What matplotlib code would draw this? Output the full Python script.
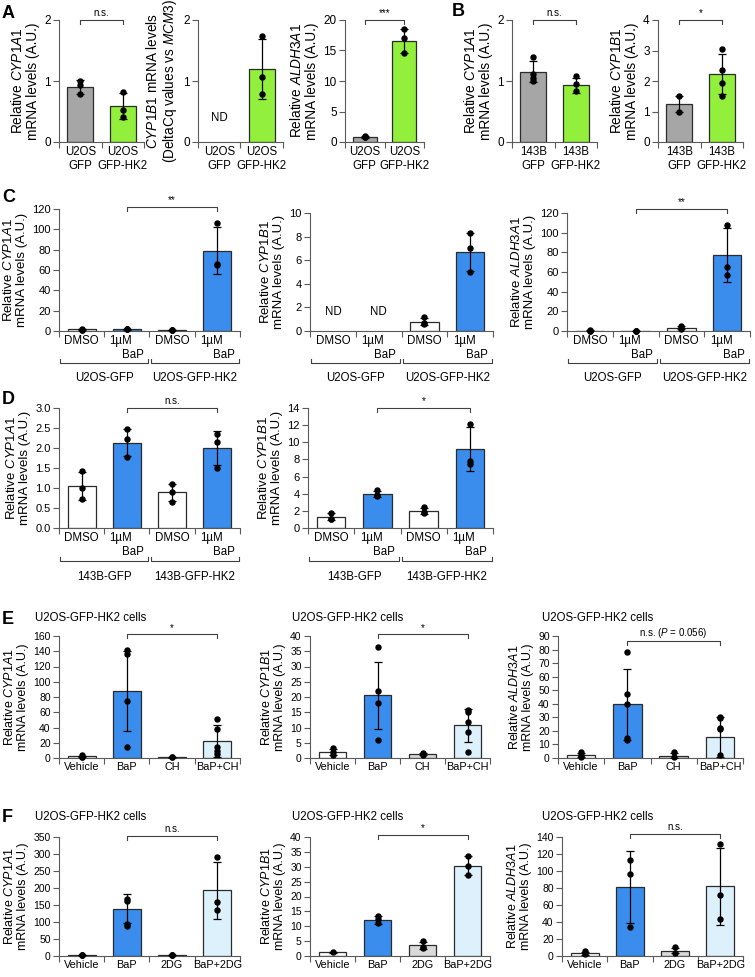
import numpy as np
import matplotlib
matplotlib.use("Agg")
import matplotlib.pyplot as plt
import matplotlib.transforms as mtransforms

plt.rcParams['font.family'] = ['Liberation Sans', 'DejaVu Sans']
plt.rcParams['mathtext.fontset'] = 'custom'
plt.rcParams['mathtext.rm'] = 'Liberation Sans'
plt.rcParams['mathtext.it'] = 'Liberation Sans:italic'
plt.rcParams['mathtext.bf'] = 'Liberation Sans:bold'

nan = np.nan

# ---------------- data ----------------
A_cats = ["U2OS\nGFP", "U2OS\nGFP-HK2"]
B_cats = ["143B\nGFP", "143B\nGFP-HK2"]

A1_mean = [0.90, 0.59]
A1_err = [0.11, 0.21]
A1_pts = [[1.00, 0.93, 0.78], [0.82, 0.52, 0.41]]

A2_mean = [nan, 1.20]
A2_err = [nan, 0.49]
A2_pts = [[], [1.74, 1.07, 0.79]]

A3_mean = [0.85, 16.6]
A3_err = [0.12, 2.0]
A3_pts = [[0.95, 0.85, 0.78], [18.6, 17.0, 14.6]]

B1_mean = [1.15, 0.93]
B1_err = [0.17, 0.12]
B1_pts = [[1.39, 1.12, 1.05, 1.00], [1.08, 0.95, 0.84]]

B2_mean = [1.24, 2.22]
B2_err = [0.27, 0.66]
B2_pts = [[1.52, 0.99], [3.05, 2.36, 1.93, 1.51]]

C_cats = ["DMSO", "1µM\n    BaP", "DMSO", "1µM\n    BaP"]
C_groups = ["U2OS-GFP", "U2OS-GFP-HK2"]
D_groups = ["143B-GFP", "143B-GFP-HK2"]

C1_mean = [1.5, 1.8, 1.0, 79]
C1_err = [0.5, 0.4, 0.2, 23]
C1_pts = [[2.0, 1.3, 1.2], [2.2, 1.6, 1.5], [1.1, 0.9, 0.9], [106, 66, 65]]

C2_mean = [nan, nan, 0.77, 6.7]
C2_err = [nan, nan, 0.3, 1.6]
C2_pts = [[], [], [1.2, 0.7, 0.6], [8.3, 7.0, 5.0]]

C3_mean = [0.5, 0.3, 3.5, 77]
C3_err = [0.15, 0.05, 1.6, 27.5]
C3_pts = [[0.7, 0.5, 0.4], [0.35, 0.3, 0.25], [5.3, 3.0, 2.2], [108, 65, 57]]

D1_mean = [1.05, 2.13, 0.89, 2.0]
D1_err = [0.36, 0.34, 0.22, 0.43]
D1_pts = [[1.42, 1.0, 0.72], [2.47, 2.22, 1.77], [1.1, 0.9, 0.64], [2.35, 2.15, 1.5]]

D2_mean = [1.3, 4.0, 1.95, 9.2]
D2_err = [0.4, 0.35, 0.35, 2.55]
D2_pts = [[1.75, 1.1, 1.0], [4.4, 3.9, 3.7], [2.5, 1.9, 1.75], [12.1, 7.8, 7.5]]

E_cats = ["Vehicle", "BaP", "CH", "BaP+CH"]
F_cats = ["Vehicle", "BaP", "2DG", "BaP+2DG"]
EF_title = "U2OS-GFP-HK2 cells"

E1_mean = [2.0, 88, 0.8, 22]
E1_err = [1.2, 52, 0.2, 21]
E1_pts = [[3.5, 1.5, 1.0], [142, 137, 75, 15], [1.0, 0.7], [51, 38, 14, 9, 5]]

E2_mean = [2.0, 20.6, 1.2, 10.7]
E2_err = [1.1, 11, 0.3, 5.5]
E2_pts = [[3.3, 2.0, 1.0], [36.3, 21.9, 18.1, 5.9], [1.5, 1.0], [15.8, 15.0, 11.9, 8.6, 2.0]]

E3_mean = [2.0, 39.5, 1.8, 15.5]
E3_err = [1.5, 26, 2.0, 14.5]
E3_pts = [[4.7, 2.2, 0.8], [78, 47, 40, 14.5, 13.5], [4.6, 0.5], [30.5, 29.5, 22.5, 21.5, 2.0]]

F1_mean = [2.5, 139, 2.5, 193]
F1_err = [1.0, 42, 1.0, 84]
F1_pts = [[3.5, 2.0, 1.5], [167, 161, 93, 87], [4.0, 2.0, 1.5], [290, 159, 134]]

F2_mean = [1.2, 12.1, 3.6, 30.3]
F2_err = [0.2, 1.2, 1.1, 3.2]
F2_pts = [[1.2], [13.5, 12.3, 11.0], [4.9, 3.1, 2.7], [33.6, 30.4, 27.2]]

F3_mean = [3.4, 81, 6.4, 82]
F3_err = [1.7, 42, 3.4, 45]
F3_pts = [[5.3, 1.9], [113, 96, 34], [10.6, 3.8], [132, 72, 43]]

# ---------------- style ----------------
GRAY = '#a6a6a6'
GREEN = '#92ef3c'
BLUE = '#3b8ded'
LBLUE = '#ddf1fc'
LGRAY = '#d9d9d9'
WHITE = '#ffffff'
EDGE = '#2b2b2b'
AXC = '#5a5a5a'

W, H = 755, 977
fig = plt.figure(figsize=(W / 100, H / 100), dpi=100)


def ylab(gene):
    return "Relative $\\mathit{%s}$\nmRNA levels (A.U.)" % gene


def panel(box, cats, means, errs, pts, colors, ymax, ystep, ylabel, fmt='{:g}',
          sig=None, nd=None, tick_fs=8, lab_fs=8, ylab_fs=8, groups=None,
          group_y=None, bar_w=0.62, sig_fs=7, malign='center'):
    x0, x1, yt, yb = box
    hpx = yb - yt
    ax = fig.add_axes([x0 / W, 1 - yb / H, (x1 - x0) / W, hpx / H])
    n = len(cats)
    for i in range(n):
        m = means[i]
        if not np.isnan(m):
            ax.bar(i, m, width=bar_w, color=colors[i], edgecolor=EDGE,
                   linewidth=0.9, zorder=2)
            ax.errorbar(i, m, yerr=errs[i], color='black', capsize=2.8,
                        elinewidth=0.9, capthick=0.9, zorder=3)
        if len(pts[i]):
            ax.plot([i] * len(pts[i]), pts[i], 'o', color='black', ms=3.6,
                    zorder=4, clip_on=False)
    ax.set_xlim(-0.5, n - 0.5)
    ax.set_ylim(0, ymax)
    yt_vals = np.arange(0, ymax + ystep / 2, ystep)
    ax.set_yticks(yt_vals)
    ax.set_yticklabels([fmt.format(v) for v in yt_vals])
    ax.set_xticks(np.arange(-0.5, n, 1.0))
    ax.set_xticklabels([])
    ax.set_xticks(np.arange(n), minor=True)
    ax.set_xticklabels(cats, minor=True, fontsize=lab_fs, multialignment=malign)
    ax.tick_params(axis='x', which='major', length=4, width=0.8, color=AXC)
    ax.tick_params(axis='x', which='minor', length=0, pad=3)
    ax.tick_params(axis='y', length=4, width=0.8, color=AXC, labelsize=tick_fs, pad=2)
    for s in ['top', 'right']:
        ax.spines[s].set_visible(False)
    for s in ['left', 'bottom']:
        ax.spines[s].set_color(AXC)
        ax.spines[s].set_linewidth(0.8)
    ax.set_ylabel(ylabel, fontsize=ylab_fs, labelpad=3, linespacing=1.1)
    if sig is not None:
        sx1, sx2, sy, stxt = sig
        d = 4.0 / hpx * ymax
        ax.plot([sx1, sx1, sx2, sx2], [sy - d, sy, sy, sy - d], color='#404040',
                lw=0.8, clip_on=False)
        ax.text((sx1 + sx2) / 2, sy + 1.5 / hpx * ymax, stxt, ha='center',
                va='bottom', fontsize=sig_fs)
    if nd is not None:
        for (i, y) in nd:
            ax.text(i, y, 'ND', ha='center', va='center', fontsize=lab_fs)
    if groups is not None:
        tr = mtransforms.blended_transform_factory(ax.transData, ax.transAxes)
        gl, gt = group_y
        fl = -(gl - yb) / hpx
        fu = -(gl - 4 - yb) / hpx
        ftxt = -(gt - yb) / hpx
        for k, g in enumerate(groups):
            a = -0.5 + 2 * k + 0.03
            b = 1.5 + 2 * k - 0.03
            ax.plot([a, a, b, b], [fu, fl, fl, fu], transform=tr, color='#404040',
                    lw=0.8, clip_on=False)
            ax.text((a + b) / 2, ftxt, g, transform=tr, ha='center', va='center',
                    fontsize=lab_fs)
    return ax


AB = [GRAY, GREEN]
CD = [WHITE, BLUE, WHITE, BLUE]
EF = [WHITE, BLUE, LGRAY, LBLUE]

# Panel A
akw = dict(tick_fs=8.5, lab_fs=8.3, ylab_fs=9.8)
panel((59, 144, 20, 142), A_cats, A1_mean, A1_err, A1_pts, AB, 2, 1, ylab('CYP1A1'),
      sig=(0, 1, 2.0, 'n.s.'), **akw)
panel((198, 283, 20, 142), A_cats, A2_mean, A2_err, A2_pts, AB, 2, 1,
      "$\\mathit{CYP1B1}$ mRNA levels\n(DeltaCq values vs $\\mathit{MCM3}$)",
      nd=[(0, 0.4)], **akw)
panel((345, 424, 20, 142), A_cats, A3_mean, A3_err, A3_pts, AB, 20, 5, ylab('ALDH3A1'),
      sig=(0, 1, 20, '***'), **akw)
# Panel B
panel((512, 597, 20, 142), B_cats, B1_mean, B1_err, B1_pts, AB, 2, 1, ylab('CYP1A1'),
      sig=(0, 1, 2.0, 'n.s.'), **akw)
panel((658, 743, 20, 142), B_cats, B2_mean, B2_err, B2_pts, AB, 4, 1, ylab('CYP1B1'),
      sig=(0, 1, 4.0, '*'), **akw)

# Panel C
ckw = dict(tick_fs=8, lab_fs=8.3, ylab_fs=9.5, malign='left')
panel((59, 240, 209, 331), C_cats, C1_mean, C1_err, C1_pts, CD, 120, 20, ylab('CYP1A1'),
      sig=(1, 3, 122, '**'), groups=C_groups, group_y=(363, 378), **ckw)
panel((310, 493, 213, 331), C_cats, C2_mean, C2_err, C2_pts, CD, 10, 2, ylab('CYP1B1'),
      nd=[(0, 1.6), (1, 1.6)], groups=C_groups, group_y=(363, 378), **ckw)
panel((567, 750, 213, 331), C_cats, C3_mean, C3_err, C3_pts, CD, 120, 20, ylab('ALDH3A1'),
      sig=(1, 3, 124, '**'), groups=C_groups, group_y=(363, 378), **ckw)

# Panel D
panel((59, 240, 408, 528), C_cats, D1_mean, D1_err, D1_pts, CD, 3.0, 0.5, ylab('CYP1A1'),
      fmt='{:.1f}', sig=(1, 3, 3.0, 'n.s.'), groups=D_groups, group_y=(561, 577), **ckw)
panel((308, 493, 408, 528), C_cats, D2_mean, D2_err, D2_pts, CD, 14, 2, ylab('CYP1B1'),
      sig=(1, 3, 14, '*'), groups=D_groups, group_y=(561, 577), **ckw)

# Panel E
ekw = dict(tick_fs=7.5, lab_fs=7.8, ylab_fs=9.0)
panel((59, 240, 636, 758), E_cats, E1_mean, E1_err, E1_pts, EF, 160, 20, ylab('CYP1A1'),
      sig=(1, 3, 162, '*'), **ekw)
panel((310, 490, 636, 758), E_cats, E2_mean, E2_err, E2_pts, EF, 40, 5, ylab('CYP1B1'),
      sig=(1, 3, 40.6, '*'), **ekw)
panel((558, 743, 636, 758), E_cats, E3_mean, E3_err, E3_pts, EF, 90, 10, ylab('ALDH3A1'),
      sig=(1, 3, 86, 'n.s. ($\\mathit{P}$ = 0.056)'), **ekw)

# Panel F
panel((59, 240, 837, 956), F_cats, F1_mean, F1_err, F1_pts, EF, 350, 50, ylab('CYP1A1'),
      sig=(1, 3, 353, 'n.s.'), **ekw)
panel((310, 490, 837, 956), F_cats, F2_mean, F2_err, F2_pts, EF, 40, 5, ylab('CYP1B1'),
      sig=(1, 3, 40.7, '*'), **ekw)
panel((562, 743, 837, 956), F_cats, F3_mean, F3_err, F3_pts, EF, 140, 20, ylab('ALDH3A1'),
      sig=(1, 3, 144, 'n.s.'), **ekw)

# titles
for (x, y) in [(35, 618), (292, 618), (542, 618), (35, 817), (292, 817), (542, 817)]:
    fig.text(x / W, 1 - y / H, EF_title, va='center', ha='left', fontsize=8.3)

# panel letters
for (lab, x, y) in [('A', 2, 13), ('B', 452, 12), ('C', 2, 197), ('D', 2, 400),
                    ('E', 2, 619), ('F', 2, 818)]:
    fig.text(x / W, 1 - y / H, lab, va='center', ha='left', fontsize=13,
             fontweight='bold')

fig.savefig('out.png', dpi=100)
